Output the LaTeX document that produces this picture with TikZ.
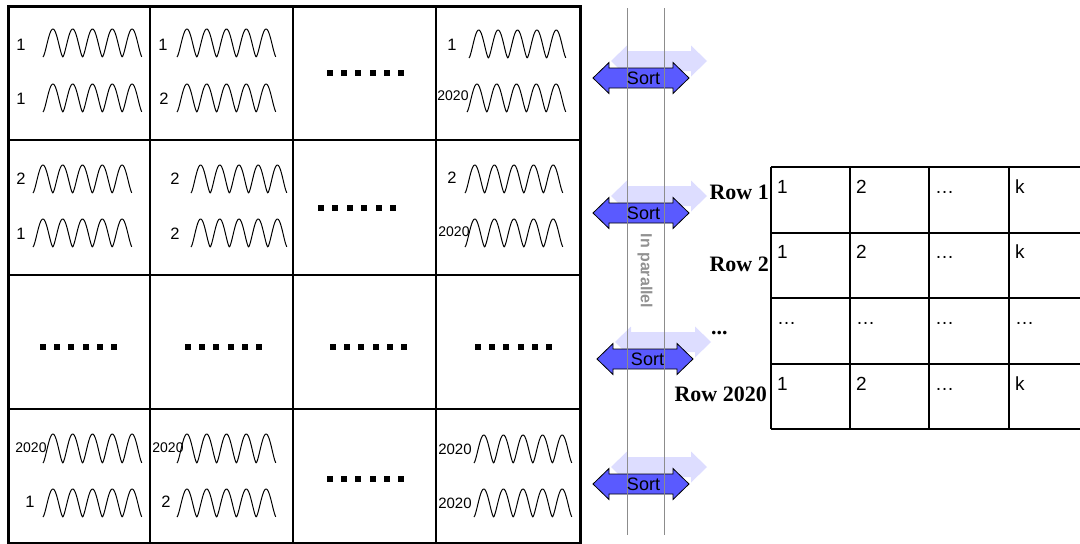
\documentclass[tikz,border=0pt]{standalone}
\usepackage{fontspec}
\setmainfont{Liberation Sans}
\newfontfamily\rowfont{Liberation Serif}
\definecolor{sortblue}{RGB}{90,90,255}
\definecolor{shadowblue}{RGB}{221,221,255}
\definecolor{guide}{RGB}{140,140,140}
\definecolor{partext}{RGB}{145,145,145}
\newcommand\wavecurve[4]{\draw[wave] plot[domain=0:1,samples=151] ({#1+(#2-#1)*\x},{#4-(#4-#3)*pow(abs(sin(900*\x))+0.00001,1.45)});}
\newcommand\dotrow[3]{\foreach \i in {0,...,5}{\fill ({#1+\i*#3-3},{#2-3}) rectangle ++(6,6);}}
\newcommand\arrowshape{(-48,0) -- (-32,-15.5) -- (-32,-10) -- (32,-10) -- (32,-15.5) -- (48,0) -- (32,15.5) -- (32,10) -- (-32,10) -- (-32,15.5) -- cycle}
\newcommand\sortshadow[2]{\begin{scope}[shift={(#1+18,#2-17)}]\fill[shadowblue] \arrowshape;\end{scope}}
\newcommand\sortbody[2]{\begin{scope}[shift={(#1,#2)}]\draw[fill=sortblue,line width=0.8pt,line join=miter] \arrowshape;\end{scope}}
\begin{document}
\begin{tikzpicture}[x=1pt,y=-1pt,
  wave/.style={line width=1pt,line join=round},
  lbl/.style={inner sep=0pt,font=\fontsize{16.5}{19}\selectfont},
  lblsm/.style={inner sep=0pt,font=\fontsize{14}{16}\selectfont},
  sorttext/.style={inner sep=0pt,font=\fontsize{18}{20}\selectfont},
  celltext/.style={inner sep=0pt,anchor=base west,font=\fontsize{19}{22}\selectfont},
  rowlabel/.style={inner sep=0pt,anchor=base east,font=\rowfont\bfseries\fontsize{22}{24}\selectfont},
  gridline/.style={line width=1.5pt},
  guideline/.style={draw=guide,line width=1pt}]
\useasboundingbox (0,0) rectangle (1080,544);
% ---- left grid
\draw[line width=3pt] (8,6) rectangle (580,543);
\foreach \xx in {150,293,436} \draw[gridline] (\xx,6) -- (\xx,543);
\foreach \yy in {140,275,409} \draw[gridline] (8,\yy) -- (580,\yy);
% ---- waves row 1
\wavecurve{43}{142}{29}{57} \wavecurve{43}{142}{84}{112}
\wavecurve{177}{276}{29}{57} \wavecurve{177}{276}{84}{112}
\wavecurve{469}{566}{30}{58} \wavecurve{467}{566}{84}{112}
% row 2
\wavecurve{33}{132}{165}{193} \wavecurve{33}{132}{219}{247}
\wavecurve{191}{287}{165}{193} \wavecurve{191}{287}{219}{247}
\wavecurve{465}{563}{165}{193} \wavecurve{465}{563}{219}{247}
% row 4
\wavecurve{43}{142}{434}{463} \wavecurve{43}{142}{489}{517}
\wavecurve{177}{276}{434}{463} \wavecurve{177}{276}{489}{517}
\wavecurve{474}{572}{435}{463} \wavecurve{474}{572}{489}{517}
% labels
\node[lbl] (l11a) at (21,45) {1};
\node[lbl] (l11b) at (21,99) {1};
\node[lbl] (l12a) at (163,45) {1};
\node[lbl] (l12b) at (164,99) {2};
\node[lbl] (l14a) at (452,45) {1};
\node[lblsm] (l14b) at (453,96) {2020};
\node[lbl] (l21a) at (21,179) {2};
\node[lbl] (l21b) at (21,234) {1};
\node[lbl] (l22a) at (175,179) {2};
\node[lbl] (l22b) at (175,234) {2};
\node[lbl] (l24a) at (452,178) {2};
\node[lblsm] (l24b) at (454,232) {2020};
\node[lblsm] (l41a) at (31,448) {2020};
\node[lbl] (l41b) at (30,502) {1};
\node[lblsm] (l42a) at (168,448) {2020};
\node[lbl] (l42b) at (166,502) {2};
\node[lblsm,font=\fontsize{15}{17}\selectfont] (l44a) at (455,449) {2020};
\node[lblsm,font=\fontsize{15}{17}\selectfont] (l44b) at (455,503) {2020};
% dots
\dotrow{330}{73}{14.2}
\dotrow{321}{208}{14.4}
\dotrow{43}{347}{14.2}
\dotrow{188}{347}{14.2}
\dotrow{333}{347}{14.2}
\dotrow{478}{347}{14.2}
\dotrow{330}{479}{14.2}
% ---- sort arrows
\sortshadow{641}{78} \sortshadow{641}{213} \sortshadow{645}{359} \sortshadow{641}{484}
\sortbody{641}{78} \sortbody{641}{213} \sortbody{645}{359} \sortbody{641}{484}
\coordinate (g1t) at (627,8); \coordinate (g1b) at (627,535);
\coordinate (g2t) at (664,8); \coordinate (g2b) at (664,535);
\draw[guideline] (g1t) -- (g1b);
\draw[guideline] (g2t) -- (g2b);
\node[sorttext] (s1) at (643.5,78) {Sort};
\node[sorttext] (s2) at (643.5,213) {Sort};
\node[sorttext] (s3) at (647.5,359) {Sort};
\node[sorttext] (s4) at (643.5,484) {Sort};
\node[rotate=-90,inner sep=0pt,text=partext,font=\bfseries\fontsize{16}{18}\selectfont] (par) at (645,271) {In parallel};
% ---- right table
\foreach \yy in {167,233,298,364,429} \draw[gridline] (771,\yy) -- (1080,\yy);
\foreach \xx in {771,850,929,1009} \draw[gridline] (\xx,167) -- (\xx,429);
\foreach \r/\yy in {1/193,2/258,4/390}{
  \node[celltext] (c\r a) at (777,\yy) {1};
  \node[celltext] (c\r b) at (856,\yy) {2};
  \node[celltext] (c\r c) at (935,\yy) {…};
  \node[celltext] (c\r d) at (1015,\yy) {k};
}
\node[celltext] (c3a) at (777,324) {…};
\node[celltext] (c3b) at (856,324) {…};
\node[celltext] (c3c) at (935,324) {…};
\node[celltext] (c3d) at (1015,324) {…};
\node[rowlabel] (r1) at (769,199) {Row 1};
\node[rowlabel] (r2) at (769,271) {Row 2};
\node[rowlabel,anchor=base west] (r3) at (711,334) {...};
\node[rowlabel] (r4) at (767,401) {Row 2020};
\end{tikzpicture}
\end{document}
